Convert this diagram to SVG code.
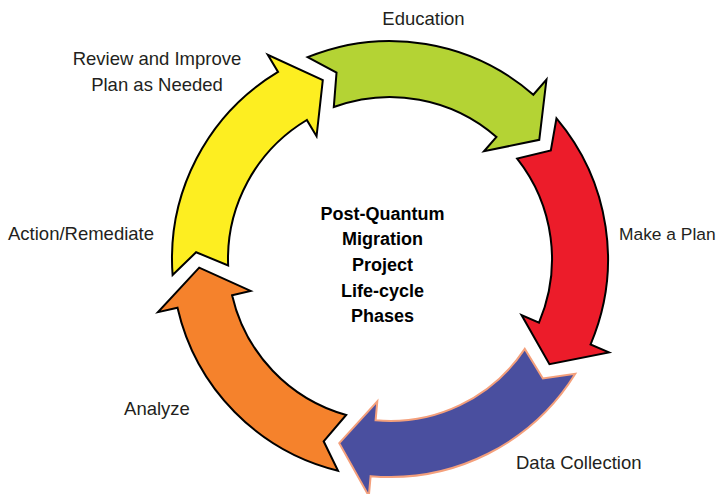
<svg xmlns="http://www.w3.org/2000/svg" xmlns:xlink="http://www.w3.org/1999/xlink" width="720" height="494" viewBox="0 0 720 494">
  <style>
    .arrow { stroke: #000; stroke-width: 2; stroke-linejoin: miter; }
    .label { font-family: "Liberation Sans", Arial, sans-serif; font-size: 18.5px; fill: #231f20; }
    .title { font-family: "Liberation Sans", Arial, sans-serif; font-size: 18px; font-weight: bold; fill: #000; text-anchor: middle; }
  </style>
  <defs>
    <path id="arrowShape" d="M172.6,275 A218,218 0 0 1 278.05,71.94 L267.78,54.78 L322.8,80.21 L316.56,136.3 L306.81,119.99 A162,162 0 0 0 228.13,265.5 L196.12,252.23 Z"/>
  </defs>
  <rect width="720" height="494" fill="#fff"/>
  <g id="review">
    <use xlink:href="#arrowShape" href="#arrowShape" class="arrow" fill="#fdee21"/>
    <text class="label" x="157" y="65" text-anchor="middle">Review and Improve</text>
    <text class="label" x="157" y="91" text-anchor="middle">Plan as Needed</text>
  </g>
  <g id="education">
    <use xlink:href="#arrowShape" href="#arrowShape" class="arrow" fill="#b4d334" transform="rotate(72 390 259)"/>
    <text class="label" x="423.5" y="25" text-anchor="middle">Education</text>
  </g>
  <g id="make-plan">
    <use xlink:href="#arrowShape" href="#arrowShape" class="arrow" fill="#ec1c2a" transform="rotate(144 390 259)"/>
    <text class="label" x="619" y="240" style="font-size:17.4px">Make a Plan</text>
  </g>
  <g id="data-collection">
    <use xlink:href="#arrowShape" href="#arrowShape" fill="#4a4f9f" stroke="#f4a07c" stroke-width="2" transform="rotate(216 390 259)"/>
    <text class="label" x="516" y="469">Data Collection</text>
  </g>
  <g id="analyze">
    <use xlink:href="#arrowShape" href="#arrowShape" class="arrow" fill="#f5822c" transform="rotate(288 390 259)"/>
    <text class="label" x="157" y="415" text-anchor="middle">Analyze</text>
  </g>
  <g id="action-remediate">
    <text class="label" x="8" y="240">Action/Remediate</text>
  </g>
  <g id="connectors"></g>
  <g id="center-title">
    <text class="title" x="382.5" y="219.5">Post-Quantum</text>
    <text class="title" x="382.5" y="245">Migration</text>
    <text class="title" x="382.5" y="271">Project</text>
    <text class="title" x="382.5" y="296.5">Life-cycle</text>
    <text class="title" x="382.5" y="322">Phases</text>
  </g>
</svg>
